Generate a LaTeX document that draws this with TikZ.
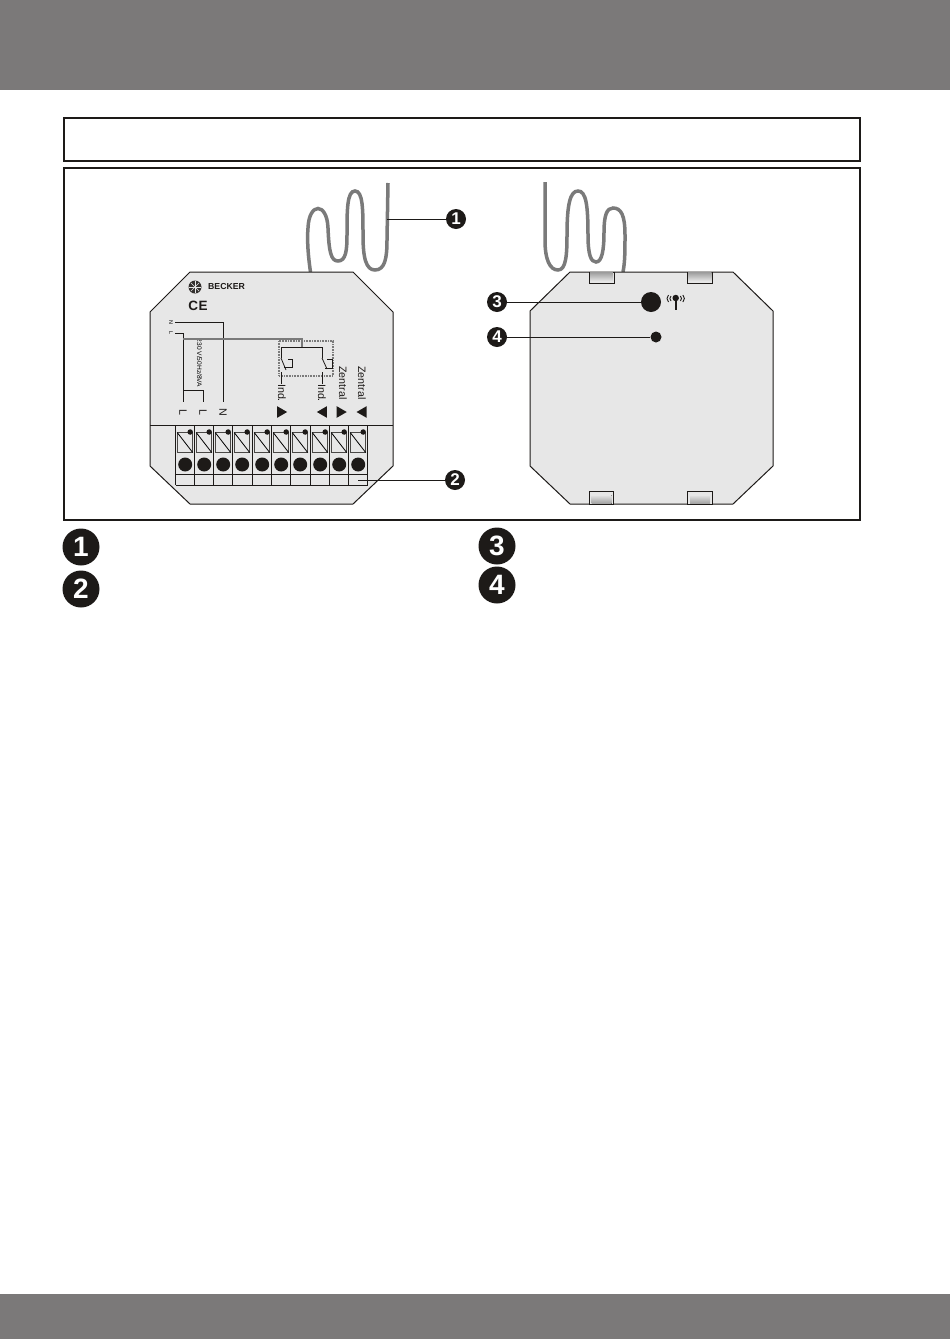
\documentclass[tikz,border=0pt]{standalone}
\usepackage{fontspec}
\setmainfont{Liberation Sans}
\usetikzlibrary{shapes.geometric}
\usetikzlibrary{positioning}
\definecolor{bandgray}{HTML}{7B7979}
\definecolor{panelgray}{HTML}{E7E7E7}
\definecolor{wiregray}{HTML}{7A7A7A}
\definecolor{inkblack}{HTML}{1D1A18}
% one terminal of the strip, #1 = left edge
\newcommand{\terminal}[1]{
  \draw[line width=1pt,draw=inkblack!80,fill=panelgray] (#1+1.5,432.5) rectangle (#1+17,452.5);
  \draw[line width=0.8pt] (#1+1.5,432.5) -- (#1+17,452.5);
  \node[tiny dot] at (#1+14.5,432) {};
  \node[big dot] at (#1+9.5,464.5) {};
}
\begin{document}
\begin{tikzpicture}[x=1pt,y=-1pt,line join=miter,
    tiny dot/.style={circle,fill=inkblack,inner sep=0pt,minimum size=5.5pt},
    big dot/.style={circle,fill=inkblack,inner sep=0pt,minimum size=14pt},
    small num/.style={circle,fill=inkblack,text=white,inner sep=0pt,minimum size=20pt,font=\fontsize{17}{17}\selectfont\bfseries},
    large num/.style={circle,fill=inkblack,text=white,inner sep=0pt,minimum size=37pt,font=\fontsize{28}{28}\selectfont\bfseries},
    frame box/.style={draw=inkblack,line width=2pt},
    device/.style={draw=inkblack,line width=1pt,fill=panelgray},
    wire/.style={draw=wiregray,line width=3.5pt},
    thin line/.style={draw=inkblack,line width=0.8pt},
    face text/.style={font=\fontsize{10.7}{10.7}\selectfont,text=inkblack,rotate=-90,inner sep=0pt},
    left mark/.style={regular polygon,regular polygon sides=3,shape border rotate=90,fill=inkblack,inner sep=0pt,minimum size=13.5pt},
    right mark/.style={regular polygon,regular polygon sides=3,shape border rotate=-90,fill=inkblack,inner sep=0pt,minimum size=13.5pt},
    tab/.style={draw=inkblack,line width=0.9pt,fill=panelgray},
    tab top/.style={top color=gray!75,bottom color=gray!20},
    tab bottom/.style={top color=gray!20,bottom color=gray!75}]
  \useasboundingbox (0,0) rectangle (950,1339);
  \fill[bandgray] (0,0) rectangle (950,90);
  \fill[bandgray] (0,1294) rectangle (950,1339);
  \draw[frame box] (64,118) rectangle (860,161);
  \draw[frame box] (64,168) rectangle (860,520);

  % wires
  \path[wire] (310.5,272) .. controls (308,255) and (307,240) .. (308,228)
    .. controls (309,202) and (327,202) .. (328,228)
    .. controls (329,252) and (331,261) .. (338,261)
    .. controls (346,261) and (347,250) .. (347,235)
    .. controls (347,210) and (347,191) .. (355,191)
    .. controls (363,191) and (363,210) .. (363,235)
    .. controls (363,258) and (366,270) .. (375,270)
    .. controls (385,270) and (387,258) .. (387,240) -- (388,183);
  \path[wire] (545,182) -- (545,240)
    .. controls (545,260) and (550,270) .. (558,270)
    .. controls (566,270) and (567,255) .. (567,235)
    .. controls (567,205) and (570,191) .. (578,191)
    .. controls (586,191) and (588,205) .. (588,235)
    .. controls (588,255) and (591,262) .. (596,262)
    .. controls (602,262) and (604,250) .. (604,232)
    .. controls (604,215) and (607,208) .. (613,208)
    .. controls (621,208) and (625,215) .. (625,235)
    .. controls (625,250) and (625,262) .. (623,272);

  % left device
  \draw[device] (190,272) -- (353,272) -- (393,312) -- (393,466) -- (353,504) -- (190,504) -- (150,466) -- (150,312) -- cycle;
  \node[circle,fill=inkblack!90,inner sep=0pt,minimum size=13pt] (logo) at (195,287) {};
  \draw[panelgray,line width=0.4pt] (189,287) -- (201,287);
  \draw[panelgray,line width=0.4pt] (195,281) -- (195,293);
  \draw[panelgray,line width=0.4pt] (191,283) -- (199,291);
  \draw[panelgray,line width=0.4pt] (199,283) -- (191,291);
  \node[font=\fontsize{8.7}{8.7}\selectfont\bfseries,text=inkblack,inner sep=0pt,anchor=west] (brand) at (208,287) {BECKER};
  \node[font=\fontsize{13.5}{13.5}\selectfont\bfseries,text=inkblack,inner sep=0pt] (ce) at (198,306) {C\kern0.5pt E};
  \node[font=\fontsize{5.5}{5.5}\selectfont,rotate=-90,inner sep=0pt] (nn) at (171,322) {N};
  \node[font=\fontsize{5.5}{5.5}\selectfont,rotate=-90,inner sep=0pt] (ll) at (171,333) {L};
  \node[font=\fontsize{6.6}{6.6}\selectfont,rotate=-90,inner sep=0pt] (rating) at (199.5,363) {230 V/50Hz/8VA};
  \node[face text] (l1) at (183,412) {L};
  \node[face text] (l2) at (203,412) {L};
  \node[face text] (n1) at (223,412) {N};
  \node[face text] (ind1) at (282,393) {Ind.};
  \node[face text] (ind2) at (322,393) {Ind.};
  \node[face text] (zen1) at (343,383) {Zentral};
  \node[face text] (zen2) at (362,383) {Zentral};
  \node[right mark] (m1) at (280.4,412) {};
  \node[left mark] (m2) at (323.6,412) {};
  \node[right mark] (m3) at (340,412) {};
  \node[left mark] (m4) at (363.3,412) {};
  \coordinate (l1top) at (183,402);
  \coordinate (l2top) at (203,402);
  \coordinate (n1top) at (223,402);
  \coordinate (nstart) at (175,322);
  \coordinate (lstart) at (175,333);

  \draw[thin line] (nstart) -- (223,322) -- (n1top);
  \draw[thin line] (lstart) -- (183,333) -- (l1top);
  \draw[thin line] (183,390) -- (203,390) -- (l2top);
  \draw[wiregray,line width=1.2pt] (183,339) -- (302,339) -- (302,347);
  \draw[wiregray,line width=1.2pt,dash pattern=on 1pt off 0.6pt] (279,341) rectangle (333,376);
  \draw[thin line] (281,358) -- (281,347) -- (322,347) -- (322,358);
  \draw[thin line] (281,358) -- (286,370);
  \draw[thin line] (322,358) -- (327,369);
  \draw[thin line] (281,372) -- (281,384);
  \draw[thin line] (322,372) -- (322,384);
  \draw[thin line] (288,359) -- (292,359) -- (292,367) -- (284,367);
  \draw[thin line] (327,359) -- (332,359) -- (332,368) -- (325,368);

  % terminal strip
  \draw[thin line] (150,425) -- (393,425);
  \draw[thin line] (175.7,425) -- (175.7,485);
  \draw[thin line] (194.7,425) -- (194.7,485);
  \draw[thin line] (213.7,425) -- (213.7,485);
  \draw[thin line] (232.7,425) -- (232.7,485);
  \draw[thin line] (252.7,425) -- (252.7,485);
  \draw[thin line] (271.7,425) -- (271.7,485);
  \draw[thin line] (290.7,425) -- (290.7,485);
  \draw[thin line] (310.7,425) -- (310.7,485);
  \draw[thin line] (329.7,425) -- (329.7,485);
  \draw[thin line] (348.7,425) -- (348.7,485);
  \draw[thin line] (367.7,425) -- (367.7,485);
  \draw[thin line] (175.7,474.5) -- (367.7,474.5);
  \draw[thin line] (175.7,485) -- (367.7,485);
  \terminal{175.7}
  \terminal{194.7}
  \terminal{213.7}
  \terminal{232.7}
  \terminal{252.7}
  \terminal{271.7}
  \terminal{290.7}
  \terminal{310.7}
  \terminal{329.7}
  \terminal{348.7}

  % right device
  \draw[device] (570,272) -- (733,272) -- (773,311) -- (773,466) -- (733,504) -- (570,504) -- (530,466) -- (530,311) -- cycle;
  \draw[tab] (589,272) rectangle (614,283);
  \draw[tab] (687,272) rectangle (712.5,283);
  \draw[tab] (589.3,491) rectangle (613.7,504);
  \draw[tab] (687.3,491) rectangle (712.7,504);
  \fill[tab top] (590,272.5) rectangle (613,281);
  \fill[tab top] (688,272.5) rectangle (711.5,281);
  \fill[tab bottom] (591.5,495) rectangle (611.5,503.5);
  \fill[tab bottom] (690,495) rectangle (710,503.5);
  \node[circle,fill=inkblack,inner sep=0pt,minimum size=20pt] (sensor) at (651,302) {};
  \node[circle,fill=inkblack,inner sep=0pt,minimum size=11pt] (button) at (656,337) {};
  \node[circle,fill=inkblack,inner sep=0pt,minimum size=6.5pt] (aerial) at (675.7,298) {};
  \coordinate (aerialfoot) at (675.7,310);
  \draw[inkblack,line width=2pt] (aerial) -- (aerialfoot);
  \draw[inkblack,line width=0.9pt] (668.5,295) .. controls (666.5,297) and (666.5,300) .. (668.5,302);
  \draw[inkblack,line width=0.9pt] (671,296) .. controls (669.5,297.5) and (669.5,299.5) .. (671,301);
  \draw[inkblack,line width=0.9pt] (682.9,295) .. controls (684.9,297) and (684.9,300) .. (682.9,302);
  \draw[inkblack,line width=0.9pt] (680.4,296) .. controls (681.9,297.5) and (681.9,299.5) .. (680.4,301);

  % callouts
  \node[small num] (c1) at (456,219) {1};
  \node[small num] (c2) at (455,480) {2};
  \node[small num] (c3) at (497,302) {3};
  \node[small num] (c4) at (497,337) {4};
  \coordinate (wiretip) at (387,219);
  \coordinate (striptip) at (358,480);
  \draw[thin line,line width=1pt] (c1) -- (wiretip);
  \draw[thin line,line width=1pt] (c2) -- (striptip);
  \draw[thin line,line width=1pt] (c3) -- (sensor);
  \draw[thin line,line width=1pt] (c4) -- (button);

  % legend
  \node[large num] (k1) at (81,547) {1};
  \node[large num] (k2) at (81,589) {2};
  \node[large num] (k3) at (497,546) {3};
  \node[large num] (k4) at (497,585) {4};
\end{tikzpicture}
\end{document}
